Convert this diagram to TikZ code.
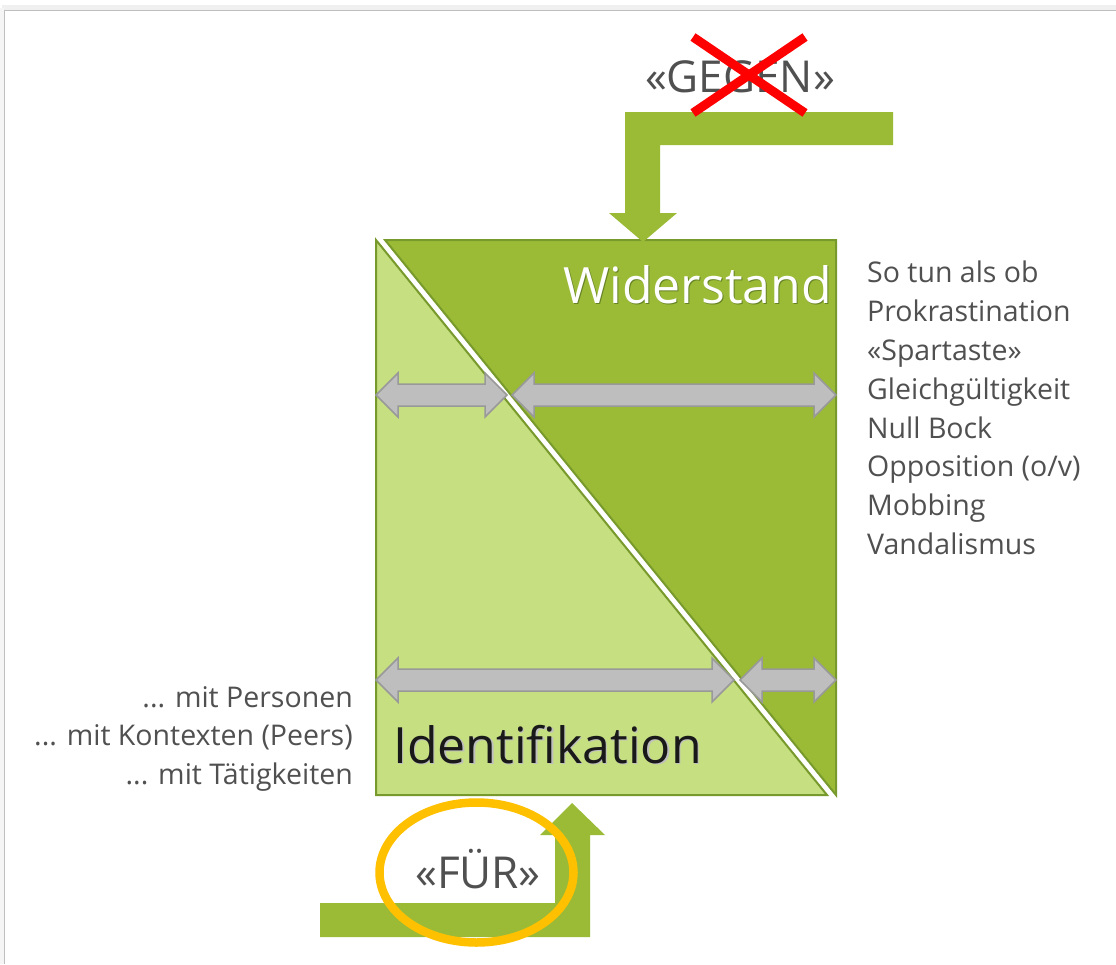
\documentclass[tikz,border=0pt]{standalone}
\usepackage{fontspec}
\setmainfont{Open Sans}
\definecolor{gDark}{HTML}{9BBB36}
\definecolor{gLight}{HTML}{C6DF80}
\definecolor{gLine}{HTML}{789A2C}
\definecolor{arrFill}{HTML}{BEBEBE}
\definecolor{arrLine}{HTML}{999999}
\definecolor{txtGray}{HTML}{505050}
\definecolor{ringOrange}{HTML}{FFC000}
\newcommand\dblarrow[3]{%
  \draw[grayarrow] (#1,#3) -- ({#1+22},{#3-22}) -- ({#1+22},{#3-11}) -- ({#2-22},{#3-11})
    -- ({#2-22},{#3-22}) -- (#2,#3) -- ({#2-22},{#3+22}) -- ({#2-22},{#3+11})
    -- ({#1+22},{#3+11}) -- ({#1+22},{#3+22}) -- cycle;}
\begin{document}
\begin{tikzpicture}[x=1pt,y=-1pt,
  grayarrow/.style={fill=arrFill, draw=arrLine, line width=1.5pt, line join=miter},
  tri/.style={draw=gLine, line width=2pt, line join=miter},
  bigarrow/.style={fill=gDark},
  bigtext/.style={inner sep=0pt, font=\fontsize{50}{60}\selectfont},
  labeltext/.style={inner sep=0pt, text=txtGray, font=\fontsize{44}{52}\selectfont},
  listtext/.style={inner sep=0pt, text=txtGray, font=\fontsize{28.5}{38.8}\selectfont}]
\useasboundingbox (0,0) rectangle (1116,964);
\fill[white] (0,0) rectangle (1116,964);
% card frame with shadow
\fill[black!6] (2,5) rectangle (1116,10);
\fill[black!4] (0,8) rectangle (4,964);
\draw[black!25, line width=1pt] (4.5,964) -- (4.5,10.5) -- (1116,10.5);
% main square: two triangles
\path[tri, fill=gLight] (376,240) -- (376,795) -- (827,795) -- cycle;
\path[tri, fill=gDark] (385,240) -- (836,240) -- (836,795) -- cycle;
% double arrows
\dblarrow{376}{507}{395}
\dblarrow{512}{836}{395}
\dblarrow{376}{734}{680}
\dblarrow{740}{836}{680}
% titles
\node[bigtext, text=gLine!85!black, anchor=base east] at (833.2,304.2) {Widerstand};
\node[bigtext, text=white, anchor=base east] (wid) at (832,303) {Widerstand};
\node[bigtext, text=black!25, anchor=base west] at (394.2,764.2) {Identifikation};
\node[bigtext, text=black!90, anchor=base west] (ident) at (393,763) {Identifikation};
% GEGEN arrow
\path[bigarrow] (893,112) -- (625,112) -- (625,213) -- (609,213) -- (643,242)
  -- (677,213) -- (660,213) -- (660,145) -- (893,145) -- cycle;
\node[labeltext, anchor=base] (gegen) at (740,92) {«GEGEN»};
\draw[red, line width=9pt] (693,37) -- (805,113);
\draw[red, line width=9pt] (805,37) -- (693,113);
% FUER arrow
\path[bigarrow] (320,903) -- (555,903) -- (555,835) -- (540,835) -- (572,803)
  -- (605,835) -- (590,835) -- (590,937) -- (320,937) -- cycle;
\node[labeltext, anchor=base] (fuer) at (478,888) {«FÜR»};
\draw[ringOrange, line width=8.5pt] (476.5,872.5) ellipse [x radius=97, y radius=70];
% lists
\node[listtext, anchor=north west, align=left] (rlist) at (867,261)
  {So tun als ob\\Prokrastination\\«Spartaste»\\Gleichgültigkeit\\Null Bock\\Opposition (o/v)\\Mobbing\\Vandalismus};
\node[listtext, anchor=north east, align=right] (llist) at (353,686)
  {... mit Personen\\... mit Kontexten (Peers)\\... mit Tätigkeiten};
\end{tikzpicture}
\end{document}
